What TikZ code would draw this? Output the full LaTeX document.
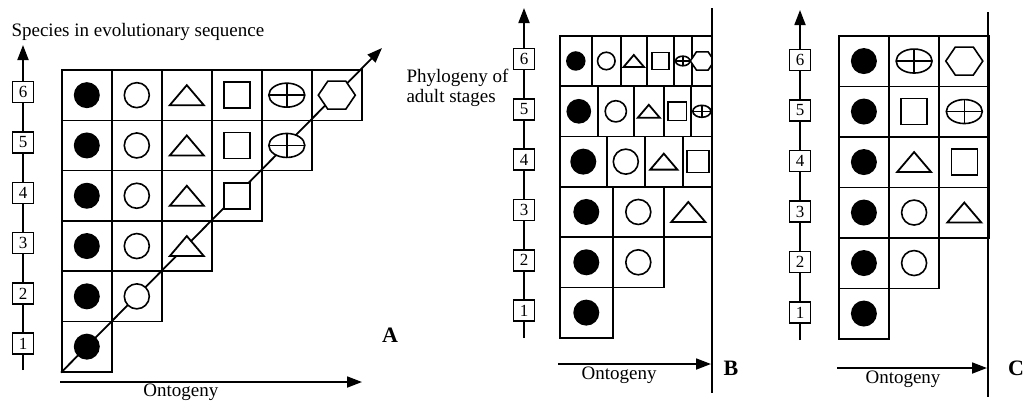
\documentclass[tikz,border=0pt]{standalone}
\usepackage{fontspec}
\setmainfont{Liberation Serif}
\usetikzlibrary{arrows.meta, positioning}

\tikzset{
  spbox/.style={draw, line width=1.5pt, fill=white, minimum width=21pt, minimum height=21pt, inner sep=1pt, font=\fontsize{17}{17}\selectfont},
  cell/.style={draw, line width=1.6pt, inner sep=0pt, anchor=north west},
  axis/.style={line width=1.8pt},
  lbl/.style={font=\fontsize{19}{20}\selectfont},
  panel/.style={font=\fontsize{22}{22}\selectfont\bfseries},
  fdot/.pic={\fill (0,0) circle (13);},
  odot/.pic={\filldraw[fill=white, line width=1.6pt] (0,0) circle (12.5);},
  tri/.pic={\filldraw[fill=white, line width=1.8pt] (-17,10) -- (17,10) -- (0,-10) -- cycle;},
  sq/.pic={\filldraw[fill=white, line width=1.6pt] (-13,-13) rectangle (13,13);},
  xell/.pic={\filldraw[fill=white, line width=1.6pt] (0,0) ellipse (18 and 12); \draw[line width=1.6pt] (-18,0) -- (18,0) (0,-12) -- (0,12);},
  hexa/.pic={\filldraw[fill=white, line width=1.6pt] (-18.5,0) -- (-9,-14) -- (9,-14) -- (18.5,0) -- (9,14) -- (-9,14) -- cycle;},
}

\begin{document}
\begin{tikzpicture}[x=1pt, y=-1pt, >={Triangle[length=15pt,width=11pt]}]
\useasboundingbox (0,0) rectangle (1023,405);

% A
\node [lbl, anchor=west] (species) at (8,32) {Species in evolutionary sequence};
\coordinate (atop) at (23,45);
\coordinate (abot) at (23,370);
\foreach \rw in {1,...,6}
  \node [spbox] (a\rw) at (23,{371-50.3*\rw+23}) {\rw};
\draw [axis] (abot) -- (a1);
\foreach \rw [evaluate=\rw as \nx using int(\rw+1)] in {1,...,5}
  \draw [axis] (a\rw) -- (a\nx);
\draw [axis, ->] (a6) -- (atop);

\foreach \s [count=\cl] in {fdot,odot,tri,sq,xell,hexa}
  \foreach \rw in {\cl,...,6}
    \node [cell, minimum width=50pt, minimum height=50.3pt] (a-\rw-\cl) at ({61+50*(\cl-1)},{371-50.3*\rw}) {};
\coordinate (phyl) at (382,48);
\draw [axis, ->] (a-1-1.south west) -- (phyl);
\foreach \s [count=\cl] in {fdot,odot,tri,sq,xell,hexa}
  \foreach \rw in {\cl,...,6}
    \pic at (a-\rw-\cl) {\s};
\node [lbl, anchor=west, align=left] (phlabel) at (403,88) {Phylogeny of\\adult stages};

\coordinate (ao0) at (60,382);
\coordinate (ao1) at (362,382);
\draw [axis, ->] (ao0) -- (ao1) node [lbl, below, pos=0.4, inner sep=1pt] {Ontogeny};
\node [panel] (pa) at (390,335) {A};

% B
\coordinate (btop) at (524,8);
\coordinate (bbot) at (524,338);
\foreach \rw in {1,...,6}
  \node [spbox] (b\rw) at (524,{337-50.33*\rw+24}) {\rw};
\draw [axis] (bbot) -- (b1);
\foreach \rw [evaluate=\rw as \nx using int(\rw+1)] in {1,...,5}
  \draw [axis] (b\rw) -- (b\nx);
\draw [axis, ->] (b6) -- (btop);

\begin{scope}
  \clip (540,20) rectangle (712.5,345);
  \foreach \rw/\xa/\xb/\s/\k [count=\n] in {
      1/559/612/fdot/1,
      2/559/612/fdot/1, 2/612/663/odot/1,
      3/559/612/fdot/1, 3/612/663/odot/1, 3/663/712/tri/1,
      4/559/606/fdot/1, 4/606/644/odot/1, 4/644/682/tri/.8, 4/682/712/sq/.85,
      5/559/597/fdot/.95, 5/597/633/odot/.85, 5/633/663/tri/.65, 5/663/690/sq/.7, 5/690/712/xell/.5,
      6/559/591/fdot/.75, 6/591/620/odot/.7, 6/620/646/tri/.6, 6/646/673/sq/.65, 6/673/691/xell/.4, 6/691/712/hexa/.65} {
    \node [cell, minimum width={(\xb-\xa)*1pt}, minimum height=50.3pt] (b-\n) at (\xa,{337-50.33*\rw}) {};
    \pic [scale=\k] at (b-\n) {\s};
  }
\end{scope}
\coordinate (bt) at (712,8);
\coordinate (bb) at (712,393);
\draw [line width=2pt] (bt) -- (bb);
\coordinate (bo0) at (558,364);
\coordinate (bo1) at (711,364);
\draw [axis, ->] (bo0) -- (bo1) node [lbl, below, pos=0.4, inner sep=2pt] {Ontogeny};
\node [panel] (pb) at (731,368) {B};

% C
\coordinate (ctop) at (800,10);
\coordinate (cbot) at (800,340);
\foreach \rw in {1,...,6}
  \node [spbox] (c\rw) at (800,{338-50.5*\rw+25}) {\rw};
\draw [axis] (cbot) -- (c1);
\foreach \rw [evaluate=\rw as \nx using int(\rw+1)] in {1,...,5}
  \draw [axis] (c\rw) -- (c\nx);
\draw [axis, ->] (c6) -- (ctop);

\foreach \rw/\cl/\s in {1/1/fdot, 2/1/fdot, 2/2/odot, 3/1/fdot, 3/2/odot, 3/3/tri,
    4/1/fdot, 4/2/tri, 4/3/sq, 5/1/fdot, 5/2/sq, 5/3/xell, 6/1/fdot, 6/2/xell, 6/3/hexa} {
  \node [cell, minimum width=50.2pt, minimum height=50.5pt] (c-\rw-\cl) at ({838+50.2*(\cl-1)},{338-50.5*\rw}) {};
  \pic at (c-\rw-\cl) {\s};
}
\coordinate (ct) at (988,12);
\coordinate (cb) at (988,397);
\draw [line width=2pt] (ct) -- (cb);
\coordinate (co0) at (837,368);
\coordinate (co1) at (987,368);
\draw [axis, ->] (co0) -- (co1) node [lbl, below, pos=0.44, inner sep=2pt] {Ontogeny};
\node [panel] (pc) at (1016,368) {C};
\end{tikzpicture}
\end{document}
